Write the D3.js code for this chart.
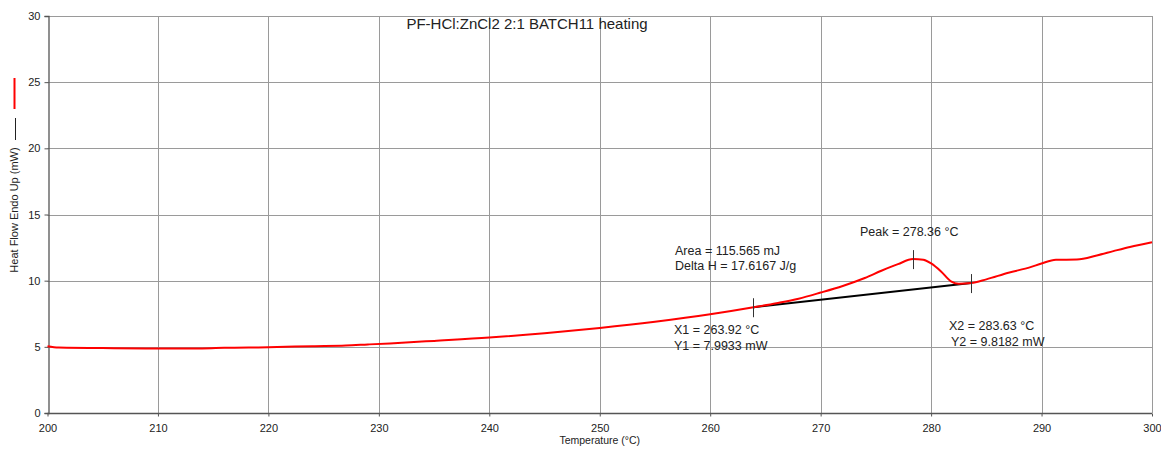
<!DOCTYPE html>
<html>
<head>
<meta charset="utf-8">
<script src="https://cdn.jsdelivr.net/npm/d3@7"></script>
<style>
  body { margin: 0; background: #fff; }
  svg text { font-family: "Liberation Sans", Arial, sans-serif; fill: #222; }
</style>
</head>
<body>
<div id="chart"></div>
<script>
// temperature (°C) and heat flow (mW)
var temps = [200, 201, 206, 210, 214, 216, 220, 224, 227, 229, 231, 235, 240, 245, 250, 255, 260,
    263.92, 266, 268, 270, 272, 274, 275.5, 277, 278.36, 279.3, 280, 280.9, 281.8, 282.5, 283.63,
    285, 287, 289, 290, 291.3, 293.2, 295, 296.5, 298, 300];
var heatFlow = [5.05, 4.95, 4.9, 4.88, 4.88, 4.93, 4.97, 5.05, 5.1, 5.18, 5.26, 5.45, 5.7, 6.03, 6.43, 6.9, 7.46,
    7.99, 8.3, 8.64, 9.1, 9.6, 10.2, 10.75, 11.25, 11.63, 11.58, 11.3, 10.7, 9.95, 9.77, 9.82,
    10.1, 10.6, 11.02, 11.3, 11.58, 11.6, 11.9, 12.23, 12.55, 12.91];

var xTicks = [200, 210, 220, 230, 240, 250, 260, 270, 280, 290, 300];
var yTicks = [0, 5, 10, 15, 20, 25, 30];

// integration baseline and peak
var baseX = [263.92, 283.63];
var baseY = [7.9933, 9.8182];
var peakX = 278.36;
var peakY = 11.63;

var margin = { top: 16, right: 9, bottom: 37, left: 47.5 };
var width = 1161, height = 450;

var svg = d3.select('#chart').append('svg')
    .attr('width', width)
    .attr('height', height);

var x = d3.scaleLinear().domain([200, 300]).range([margin.left, width - margin.right]);
var y = d3.scaleLinear().domain([0, 30]).range([height - margin.bottom, margin.top]);

// grid
svg.append('g').selectAll('line').data(xTicks.slice(1)).enter().append('line')
    .attr('x1', d => Math.round(x(d)) + 0.5).attr('x2', d => Math.round(x(d)) + 0.5)
    .attr('y1', y(30)).attr('y2', y(0))
    .attr('stroke', '#9a9a9a').attr('stroke-width', 1);
svg.append('g').selectAll('line').data(yTicks.slice(1)).enter().append('line')
    .attr('x1', x(200)).attr('x2', x(300))
    .attr('y1', d => Math.round(y(d)) + 0.5).attr('y2', d => Math.round(y(d)) + 0.5)
    .attr('stroke', '#9a9a9a').attr('stroke-width', 1);

// axes
var xAxis = d3.axisBottom(x).tickValues(xTicks).tickSize(3).tickPadding(6).tickFormat(d3.format('d'));
var yAxis = d3.axisLeft(y).tickValues(yTicks).tickSize(4).tickPadding(4).tickFormat(d3.format('d'));

var gx = svg.append('g')
    .attr('transform', 'translate(0,' + (Math.round(y(0)) + 0.5) + ')')
    .call(xAxis);
var gy = svg.append('g')
    .attr('transform', 'translate(' + (Math.round(x(200)) + 0.5) + ',0)')
    .call(yAxis);
[gx, gy].forEach(function (g) {
    g.select('.domain').attr('stroke', '#555').attr('stroke-width', 1.3);
    g.selectAll('.tick line').attr('stroke', '#555');
    g.selectAll('.tick text').style('font-size', '11px').attr('fill', '#222');
});
gx.select('.domain').attr('d', 'M' + x(200) + ',0H' + x(300));
gx.selectAll('.tick text').attr('dy', '0.9em');

// axis titles
svg.append('text')
    .attr('x', (x(200) + x(300)) / 2).attr('y', 444)
    .attr('text-anchor', 'middle')
    .style('font-size', '10.5px')
    .text('Temperature (°C)');
svg.append('text')
    .attr('transform', 'translate(18,210) rotate(-90)')
    .attr('text-anchor', 'middle')
    .style('font-size', '11px')
    .text('Heat Flow Endo Up (mW)');

// legend strokes beside the y title
svg.append('line').attr('x1', 14.5).attr('x2', 14.5).attr('y1', 78).attr('y2', 109)
    .attr('stroke', 'red').attr('stroke-width', 2);
svg.append('line').attr('x1', 15.5).attr('x2', 15.5).attr('y1', 118).attr('y2', 140)
    .attr('stroke', '#222').attr('stroke-width', 1);

// title
svg.append('text')
    .attr('x', 527).attr('y', 29)
    .attr('text-anchor', 'middle')
    .style('font-size', '15px')
    .attr('fill', '#333')
    .text('PF-HCl:ZnCl2 2:1 BATCH11 heating');

// baseline
svg.append('line')
    .attr('x1', x(baseX[0])).attr('y1', y(baseY[0]))
    .attr('x2', x(baseX[1])).attr('y2', y(baseY[1]))
    .attr('stroke', 'black').attr('stroke-width', 2);

// heat flow trace
var data = temps.map((t, i) => [t, heatFlow[i]]);
var line = d3.line()
    .x(d => x(d[0]))
    .y(d => y(d[1]))
    .curve(d3.curveMonotoneX);
svg.append('path')
    .datum(data)
    .attr('d', line)
    .attr('fill', 'none')
    .attr('stroke', 'red')
    .attr('stroke-width', 2);

// markers
[[baseX[0], baseY[0]], [baseX[1], baseY[1]], [peakX, peakY]].forEach(function (p) {
    svg.append('line')
        .attr('x1', Math.round(x(p[0])) + 0.5).attr('x2', Math.round(x(p[0])) + 0.5)
        .attr('y1', y(p[1]) - 9).attr('y2', y(p[1]) + 10)
        .attr('stroke', '#333').attr('stroke-width', 1);
});

// annotations
var notes = [
    { tx: 675, ty: 255, s: 'Area = 115.565 mJ' },
    { tx: 675, ty: 270, s: 'Delta H = 17.6167 J/g' },
    { tx: 860, ty: 236, s: 'Peak = 278.36 °C' },
    { tx: 674, ty: 334, s: 'X1 = 263.92 °C' },
    { tx: 674, ty: 350, s: 'Y1 = 7.9933 mW' },
    { tx: 949, ty: 330, s: 'X2 = 283.63 °C' },
    { tx: 951, ty: 346, s: 'Y2 = 9.8182 mW' }
];
svg.append('g').selectAll('text').data(notes).enter().append('text')
    .attr('x', d => d.tx).attr('y', d => d.ty)
    .style('font-size', '12.5px')
    .text(d => d.s);
</script>
</body>
</html>
